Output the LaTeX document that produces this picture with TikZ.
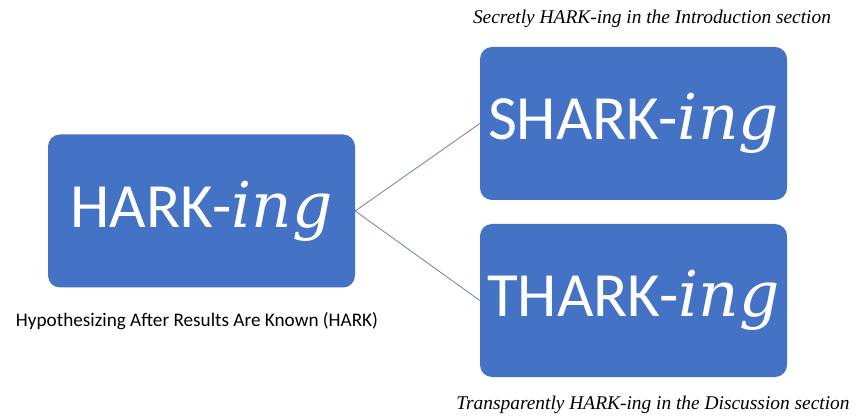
\documentclass[tikz,border=0pt]{standalone}
\usepackage{fontspec}
\setmainfont{Carlito}
\newfontfamily\ingfont{DejaVu Serif}
\newfontfamily\capfont{Liberation Serif}
\definecolor{boxblue}{HTML}{4472C4}
\definecolor{linkcol}{RGB}{110,128,175}
\begin{document}
\begin{tikzpicture}[x=1pt,y=1pt,
  bigbox/.style={draw=none,fill=boxblue,rounded corners=12pt,minimum width=307pt,minimum height=153pt,inner sep=0pt,text=white,font=\fontsize{63}{63}\selectfont},
  link/.style={draw=linkcol,line width=0.8pt},
  capit/.style={font=\capfont\itshape\fontsize{19.4}{22}\selectfont,inner sep=0pt},
  capsans/.style={font=\fontsize{19.2}{22}\selectfont,inner sep=0pt}]
\useasboundingbox (0,0) rectangle (856,415);
\fill[white] (0,0) rectangle (856,415);
\newcommand{\ingtxt}{{\ingfont\itshape ing}}
\node[bigbox] (hark) at (201.5,204) {HARK-\ingtxt};
\node[bigbox] (shark) at (633.5,291.5) {SHARK-\ingtxt};
\node[bigbox] (thark) at (633.5,114.5) {THARK-\ingtxt};
\draw[link] (hark.east) -- (shark.west);
\draw[link] (hark.east) -- (thark.west);
\node[capit] (tcap) at (652,396) {Secretly HARK-ing in the Introduction section};
\node[capit] (bcap) at (653,10) {Transparently HARK-ing in the Discussion section};
\node[capsans] (lcap) at (197,94) {Hypothesizing After Results Are Known (HARK)};
\end{tikzpicture}
\end{document}
